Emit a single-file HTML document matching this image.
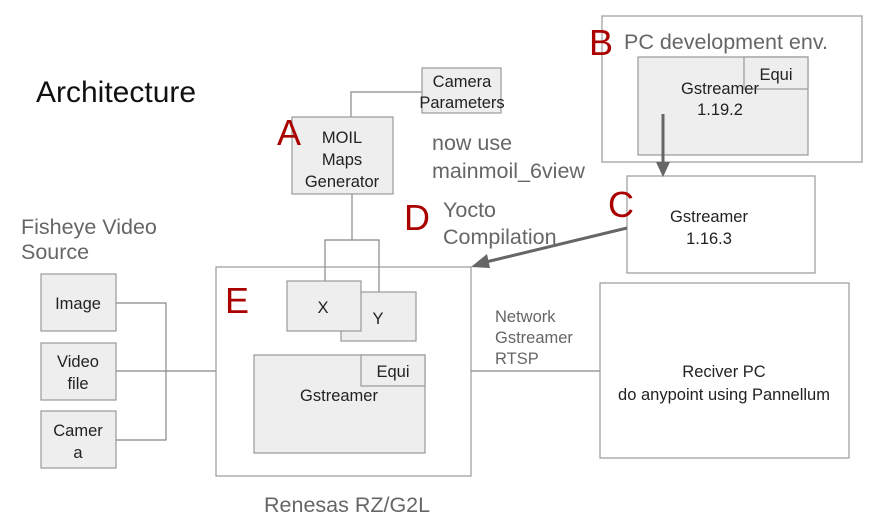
<!DOCTYPE html>
<html><head><style>body{margin:0;background:#fff}svg{display:block}text{font-family:"Liberation Sans",sans-serif}</style></head><body>
<svg width="883" height="526" viewBox="0 0 883 526" xmlns="http://www.w3.org/2000/svg">
<g fill="none" stroke="#888" stroke-width="1.2">
<polyline points="116,303 166,303 166,440 116,440"/>
<line x1="116" y1="371" x2="216" y2="371"/>
<polyline points="422,92 351,92 351,117"/>
<line x1="352" y1="194" x2="352" y2="240"/>
<polyline points="325,281 325,240 379,240 379,292"/>
<line x1="471" y1="371" x2="600" y2="371"/>
</g>
<g stroke="#999" stroke-width="1.2">
<rect x="41" y="274" width="75" height="57" fill="#eee"/>
<rect x="41" y="343" width="75" height="57" fill="#eee"/>
<rect x="41" y="411" width="75" height="57" fill="#eee"/>
<rect x="216" y="267" width="255" height="209" fill="none"/>
<rect x="341" y="292" width="75" height="49" fill="#eee"/>
<rect x="287" y="281" width="74" height="50" fill="#eee"/>
<rect x="254" y="355" width="171" height="98" fill="#eee"/>
<rect x="361" y="355" width="64" height="31" fill="#eee"/>
<rect x="292" y="117" width="101" height="77" fill="#eee"/>
<rect x="422" y="68" width="79" height="45" fill="#eee"/>
<rect x="602" y="16" width="260" height="146" fill="#fff"/>
<rect x="638" y="57" width="170" height="98" fill="#eee"/>
<rect x="744" y="57" width="64" height="32" fill="#eee"/>
<rect x="627" y="176" width="188" height="97" fill="#fff"/>
<rect x="600" y="283" width="249" height="175" fill="#fff"/>
</g>
<g stroke="#666" stroke-width="3" fill="#666">
<line x1="663" y1="114" x2="663" y2="164"/>
<polygon points="656,162 670,162 663,177" stroke="none"/>
<line x1="627" y1="228" x2="486" y2="262"/>
<polygon points="471,267 487,254 490,268" stroke="none"/>
</g>
<g fill="#222" font-size="16.5" text-anchor="middle">
<text x="78" y="309">Image</text>
<text x="78" y="367">Video</text><text x="78" y="389">file</text>
<text x="78" y="436">Camer</text><text x="78" y="458">a</text>
<text x="323" y="313">X</text>
<text x="378" y="324">Y</text>
<text x="393" y="377">Equi</text>
<text x="339" y="401">Gstreamer</text>
<text x="342" y="143">MOIL</text><text x="342" y="165">Maps</text><text x="342" y="187">Generator</text>
<text x="462" y="87">Camera</text><text x="462" y="108">Parameters</text>
<text x="776" y="80">Equi</text>
<text x="720" y="94">Gstreamer</text><text x="720" y="115">1.19.2</text>
<text x="709" y="222">Gstreamer</text><text x="709" y="244">1.16.3</text>
<text x="724" y="377">Reciver PC</text><text x="724" y="400">do anypoint using Pannellum</text>
</g>
<g fill="#666" font-size="21.5">
<text x="432" y="150">now use</text><text x="432" y="178">mainmoil_6view</text>
<text x="443" y="217">Yocto</text><text x="443" y="244">Compilation</text>
<text x="624" y="49">PC development env.</text>
<text x="21" y="234">Fisheye Video</text><text x="21" y="259">Source</text>
<text x="264" y="512">Renesas RZ/G2L</text>
</g>
<g fill="#666" font-size="16.5">
<text x="495" y="322">Network</text><text x="495" y="343">Gstreamer</text><text x="495" y="364">RTSP</text>
</g>
<text x="36" y="102" font-size="30" fill="#111">Architecture</text>
<g fill="#a00" font-size="36">
<text x="277" y="145">A</text>
<text x="589" y="55">B</text>
<text x="608" y="217">C</text>
<text x="404" y="230">D</text>
<text x="225" y="313">E</text>
</g>
</svg>
</body></html>
